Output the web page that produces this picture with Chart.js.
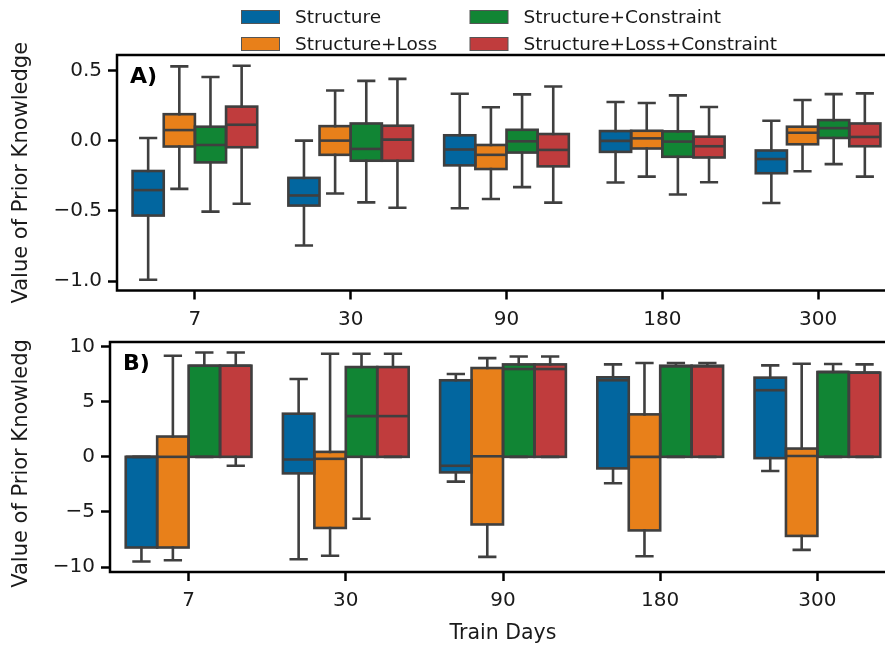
<!DOCTYPE html>
<html>
<head>
<meta charset="utf-8">
<title>Value of Prior Knowledge by Train Days</title>
<script src="https://cdn.jsdelivr.net/npm/chart.js@4.4.1/dist/chart.umd.min.js"></script>
<style>
  html, body { margin: 0; padding: 0; background: #fff; width: 885px; height: 647px; overflow: hidden; }
  canvas { position: absolute; left: 0; }
  #panelA { top: 0; }
  #panelB { top: 338px; }
</style>
</head>
<body>
<canvas id="panelA" width="900" height="336"></canvas>
<canvas id="panelB" width="900" height="309"></canvas>
<script>
const trainDays = ['7', '30', '90', '180', '300']
const seriesNames = ['Structure', 'Structure+Loss', 'Structure+Constraint', 'Structure+Loss+Constraint']
const boxColors = ['#02669f', '#e8801a', '#118534', '#c03c3d']

// each row: [lower whisker, q1, median, q3, upper whisker] for one train-day group
const aStructure = [[-0.99, -0.533, -0.352, -0.216, 0.019], [-0.746, -0.462, -0.39, -0.265, 0.0], [-0.481, -0.176, -0.063, 0.038, 0.333], [-0.298, -0.08, -0.002, 0.068, 0.275], [-0.444, -0.232, -0.131, -0.07, 0.141]]
const aLoss = [[-0.343, -0.042, 0.075, 0.188, 0.528], [-0.376, -0.101, 0.0, 0.103, 0.357], [-0.415, -0.202, -0.101, -0.031, 0.237], [-0.256, -0.056, 0.016, 0.07, 0.268], [-0.218, -0.026, 0.056, 0.099, 0.289]]
const aConstraint = [[-0.505, -0.155, -0.031, 0.099, 0.453], [-0.439, -0.143, -0.059, 0.122, 0.425], [-0.331, -0.085, -0.005, 0.077, 0.329], [-0.383, -0.115, -0.007, 0.066, 0.322], [-0.167, 0.019, 0.089, 0.146, 0.331]]
const aLossConstraint = [[-0.449, -0.047, 0.113, 0.242, 0.533], [-0.477, -0.143, 0.007, 0.106, 0.439], [-0.441, -0.183, -0.066, 0.047, 0.385], [-0.296, -0.12, -0.04, 0.028, 0.239], [-0.256, -0.04, 0.026, 0.122, 0.336]]

const bStructure = [[-9.49, -8.22, 0, 0, 0], [-9.28, -1.5, -0.24, 3.91, 7.06], [-2.25, -1.41, -0.81, 6.94, 7.51], [-2.4, -1.05, 6.94, 7.21, 8.38], [-1.29, -0.12, 6.04, 7.18, 8.29]]
const bLoss = [[-9.37, -8.22, 0, 1.84, 9.16], [-8.97, -6.45, -0.18, 0.45, 9.34], [-9.07, -6.13, 0.05, 8.05, 8.95], [-9.01, -6.67, 0, 3.85, 8.5], [-8.43, -7.17, 0.08, 0.75, 8.44]]
const bConstraint = [[0, 0, 8.26, 8.26, 9.46], [-5.61, 0, 3.69, 8.14, 9.34], [0, 0, 7.96, 8.38, 9.1], [0, 0, 8.2, 8.26, 8.5], [0, 0, 7.69, 7.69, 8.41]]
const bLossConstraint = [[-0.81, 0, 8.26, 8.26, 9.46], [0, 0, 3.69, 8.14, 9.34], [0, 0, 7.96, 8.38, 9.1], [0, 0, 8.2, 8.26, 8.5], [0, 0, 7.63, 7.63, 8.38]]

const aTicks = [-1.0, -0.5, 0.0, 0.5]
const bTicks = [-10, -5, 0, 5, 10]

const FONT = '"DejaVu Sans", sans-serif'
const edgeColor = '#3f3f3f'
const textColor = '#1a1a1a'

function minusSign(s) {
    return s.replace('-', '\u2212')
}

// whiskers, caps, medians and box outlines on top of the filled bars
const boxPlugin = {
    id: 'boxes',
    afterDatasetsDraw(chart) {
        const ctx = chart.ctx
        const y = chart.scales.y
        ctx.save()
        ctx.strokeStyle = edgeColor
        ctx.lineWidth = 2.6
        ctx.lineCap = 'square'
        chart.data.datasets.forEach((ds, di) => {
            chart.getDatasetMeta(di).data.forEach((bar, i) => {
                const [lo, q1, med, q3, hi] = ds.stats[i]
                const x = bar.x
                const half = bar.width / 2
                const yLo = y.getPixelForValue(lo)
                const yQ1 = y.getPixelForValue(q1)
                const yMed = y.getPixelForValue(med)
                const yQ3 = y.getPixelForValue(q3)
                const yHi = y.getPixelForValue(hi)
                ctx.beginPath()
                ctx.moveTo(x, yQ3); ctx.lineTo(x, yHi)
                ctx.moveTo(x, yQ1); ctx.lineTo(x, yLo)
                ctx.moveTo(x - half / 2, yHi); ctx.lineTo(x + half / 2, yHi)
                ctx.moveTo(x - half / 2, yLo); ctx.lineTo(x + half / 2, yLo)
                ctx.stroke()
                ctx.lineCap = 'butt'
                ctx.strokeRect(x - half, yQ3, half * 2, yQ1 - yQ3)
                ctx.beginPath()
                ctx.moveTo(x - half, yMed); ctx.lineTo(x + half, yMed)
                ctx.stroke()
                ctx.lineCap = 'square'
            })
        })
        ctx.restore()
    }
}

// black frame round the plot area and the panel letter
const framePlugin = {
    id: 'frame',
    afterDraw(chart, args, opts) {
        const ctx = chart.ctx
        const a = chart.chartArea
        ctx.save()
        ctx.strokeStyle = '#000'
        ctx.lineWidth = 2.5
        ctx.strokeRect(a.left, a.top, a.right - a.left, a.bottom - a.top)
        ctx.fillStyle = '#000'
        ctx.font = 'bold 22px ' + FONT
        ctx.textBaseline = 'alphabetic'
        ctx.fillText(opts.tag, a.left + 13, a.top + 28)
        ctx.restore()
    }
}

// two-column legend above the top panel
const legendPlugin = {
    id: 'twoColLegend',
    afterDraw(chart, args, opts) {
        if (!opts.show) return
        const ctx = chart.ctx
        const cols = [241.5, 470]
        const rows = [17, 44]
        ctx.save()
        ctx.font = '18.5px ' + FONT
        ctx.textBaseline = 'middle'
        seriesNames.forEach((name, k) => {
            const px = cols[Math.floor(k / 2)]
            const py = rows[k % 2]
            ctx.fillStyle = boxColors[k]
            ctx.fillRect(px, py - 6.5, 38, 13)
            ctx.strokeStyle = '#555'
            ctx.lineWidth = 1
            ctx.strokeRect(px, py - 6.5, 38, 13)
            ctx.fillStyle = textColor
            ctx.fillText(name, px + 53.5, py + 1)
        })
        ctx.restore()
    }
}

function makeDatasets(groups) {
    return groups.map((stats, si) => ({
        label: seriesNames[si],
        data: stats.map(r => [r[1], r[3]]),
        stats: stats,
        backgroundColor: boxColors[si],
        borderWidth: 0,
        categoryPercentage: 0.8,
        barPercentage: 1.0
    }))
}

function makePanel(id, groups, opt) {
    const tickFont = { family: FONT, size: 20 }
    return new Chart(document.getElementById(id), {
        type: 'bar',
        data: { labels: trainDays, datasets: makeDatasets(groups) },
        options: {
            responsive: false,
            animation: false,
            devicePixelRatio: 1,
            layout: { padding: { top: opt.top, right: 4, bottom: 0, left: 0 } },
            plugins: {
                legend: { display: false },
                tooltip: { enabled: false },
                frame: { tag: opt.tag },
                twoColLegend: { show: opt.legend }
            },
            scales: {
                x: {
                    grid: { display: true, offset: false, drawOnChartArea: false, drawTicks: true, tickLength: 9, tickWidth: 2.5, tickColor: '#000' },
                    border: { display: false },
                    ticks: { font: tickFont, color: textColor, padding: 8, autoSkip: false, maxRotation: 0 },
                    title: { display: opt.xTitle, text: 'Train Days', font: { family: FONT, size: 20.5 }, color: textColor, padding: { top: 0, bottom: 1 } },
                    afterFit: s => {
                        s.height = opt.xHeight
                        s.paddingLeft = 0
                        s.paddingRight = 0
                    }
                },
                y: {
                    min: opt.min,
                    max: opt.max,
                    grid: { display: true, drawOnChartArea: false, drawTicks: true, tickLength: 9, tickWidth: 2.5, tickColor: '#000' },
                    border: { display: false },
                    afterBuildTicks: s => { s.ticks = opt.ticks.map(v => ({ value: v })) },
                    ticks: { font: tickFont, color: textColor, padding: 6, callback: v => minusSign(opt.fmt(v)) },
                    title: { display: true, text: 'Value of Prior Knowledge', font: { family: FONT, size: 21 }, color: textColor, padding: { top: 9, bottom: 0 } },
                    afterFit: s => {
                        s.width = opt.yWidth
                        s.paddingTop = 0
                        s.paddingBottom = 0
                    }
                }
            }
        },
        plugins: [boxPlugin, framePlugin, legendPlugin]
    })
}

makePanel('panelA', [aStructure, aLoss, aConstraint, aLossConstraint], {
    tag: 'A)', legend: true, top: 55, xHeight: 45.5, yWidth: 117, xTitle: false,
    min: -1.066, max: 0.609, ticks: aTicks, fmt: v => v.toFixed(1)
})

makePanel('panelB', [bStructure, bLoss, bConstraint, bLossConstraint], {
    tag: 'B)', legend: false, top: 4, xHeight: 75, yWidth: 110, xTitle: true,
    min: -10.44, max: 10.41, ticks: bTicks, fmt: v => String(v)
})
</script>
</body>
</html>
